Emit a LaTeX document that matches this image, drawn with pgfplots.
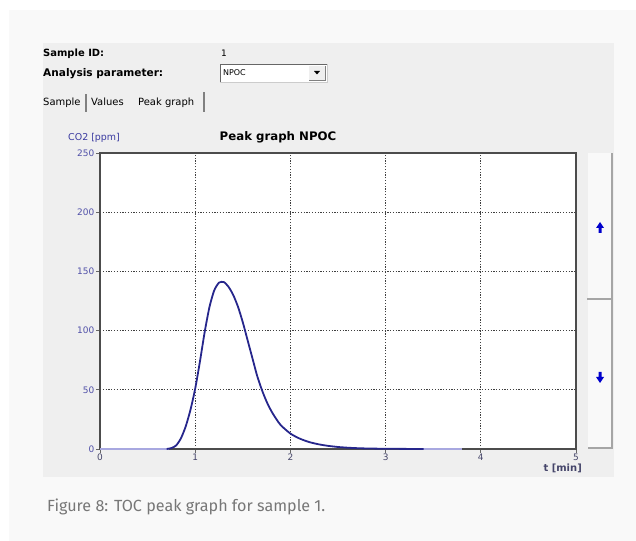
\documentclass[border=0pt]{standalone}
\usepackage{fontspec}
\setmainfont{DejaVu Sans}
\newfontfamily\capfont{Fira Sans}
\usepackage{pgfplots}
\pgfplotsset{compat=1.18}

\definecolor{pagebg}{HTML}{F9F9F9}
\definecolor{panelbg}{HTML}{EFEFEF}
\definecolor{curve}{RGB}{38,38,140}
\definecolor{basecol}{HTML}{A8A8E0}
\definecolor{ticky}{HTML}{5050A8}
\definecolor{tickx}{HTML}{45456A}
\definecolor{labblue}{HTML}{3A3AA0}
\definecolor{capgray}{HTML}{777777}

\begin{document}
\begin{tikzpicture}[x=1bp,y=1bp, every node/.style={inner sep=0pt}]
% page and window panel
\fill[white] (0,0) rectangle (636,541);
\fill[pagebg] (9,0) rectangle (636,531);
\fill[panelbg] (43,541-477) rectangle (614,541-43);

% header fields
\node[anchor=base west, font=\bfseries\fontsize{10}{12}\selectfont] at (43,541-57) {Sample ID:};
\node[anchor=base west, font=\fontsize{9}{11}\selectfont] at (221,541-57) {1};
\node[anchor=base west, font=\bfseries\fontsize{10.6}{12}\selectfont] at (43,541-77) {Analysis parameter:};
\fill[white] (220,541-82) rectangle (327,541-64);
\draw[gray!80!black] (220,541-82) -- (220,541-64) -- (327,541-64);
\draw[gray!40] (220,541-82) -- (327,541-82) -- (327,541-64);
\node[anchor=base west, font=\fontsize{8}{10}\selectfont] at (223,541-76) {NPOC};
\fill[panelbg] (309,541-80) rectangle (325,541-66);
\draw[gray] (309,541-80) -- (325,541-80) -- (325,541-66);
\fill[black] (314,541-71) -- (320,541-71) -- (317,541-74.5) -- cycle;

% tabs
\node[anchor=base west, font=\fontsize{10}{11}\selectfont] at (43,541-106) {Sample};
\draw[gray, line width=1.2] (86,541-112) -- (86,541-94);
\node[anchor=base west, font=\fontsize{10}{11}\selectfont] at (91,541-106) {Values};
\node[anchor=base west, font=\fontsize{10}{11}\selectfont] at (138,541-106) {Peak graph};
\draw[gray, line width=1.2] (204,541-112) -- (204,541-92);

% scroll buttons on the right
\fill[white!60!panelbg] (588,541-448) rectangle (612,541-153);
\draw[gray!70, line width=1.2] (588,541-448) -- (612,541-448) -- (612,541-153);
\draw[gray!70, line width=2] (587,541-299) -- (612,541-299);
\fill[blue!80!black] (600,541-222) -- (596,541-228) -- (598.5,541-228) -- (598.5,541-233) -- (601.5,541-233) -- (601.5,541-228) -- (604,541-228) -- cycle;
\fill[blue!80!black] (600,541-383) -- (596,541-377) -- (598.5,541-377) -- (598.5,541-372) -- (601.5,541-372) -- (601.5,541-377) -- (604,541-377) -- cycle;

% chart titles
\node[anchor=base, font=\bfseries\fontsize{11.8}{13}\selectfont] at (278,541-141) {Peak graph NPOC};
\node[anchor=base west, text=labblue, font=\fontsize{9.5}{11}\selectfont] at (68,541-141) {CO2 [ppm]};
\node[anchor=base east, text=tickx, font=\bfseries\fontsize{10}{11}\selectfont] at (582,541-472) {t [min]};

\begin{axis}[
    at={(100bp,92bp)}, anchor=south west,
    scale only axis, width=476bp, height=296bp,
    xmin=0, xmax=5, ymin=0, ymax=250,
    xtick={0,1,2,3,4,5},
    ytick={0,50,100,150,200,250},
    grid=major,
    major grid style={dash pattern=on 1.2pt off 1.6pt, black!75, line width=0.9pt},
    axis line style={black!70, line width=1.1pt},
    axis background/.style={fill=white},
    tick align=outside,
    major tick length=4bp,
    tick style={black!60, line width=0.8pt},
    xtick pos=bottom, ytick pos=left,
    /pgf/number format/assume math mode=true,
    yticklabel style={text=ticky, font=\fontsize{9}{10}\selectfont, inner sep=1.5bp},
    xticklabel style={text=tickx, font=\fontsize{9}{10}\selectfont, inner sep=1bp},
    clip=false,
]
\addplot[basecol, line width=1.6pt] coordinates {(0,0) (0.72,0)};
\addplot[basecol, line width=1.6pt] coordinates {(3.3,0) (3.8,0)};
\addplot[curve, line width=1.8pt, smooth, tension=0.4] coordinates {
(0.70,0) (0.75,0.8) (0.80,3) (0.85,9) (0.90,19) (0.95,33) (1.00,51)
(1.05,74) (1.10,99) (1.15,120) (1.20,134) (1.25,140.5) (1.30,141)
(1.35,137) (1.40,130) (1.45,120) (1.50,107) (1.55,92) (1.60,77)
(1.65,62) (1.70,50) (1.75,40) (1.80,32) (1.85,25.5) (1.90,20)
(2.00,13) (2.10,8.7) (2.20,5.8) (2.30,3.9) (2.40,2.6) (2.50,1.7)
(2.60,1.1) (2.70,0.7) (2.80,0.45) (3.00,0.2) (3.40,0)
};
\end{axis}

% caption
\node[anchor=base west, text=capgray, font=\capfont\fontsize{16.2}{19}\selectfont] at (47,541-512) {Figure 8: TOC peak graph for sample 1.};

\pgfresetboundingbox
\path (0,0) rectangle (636,541);
\end{tikzpicture}
\end{document}
